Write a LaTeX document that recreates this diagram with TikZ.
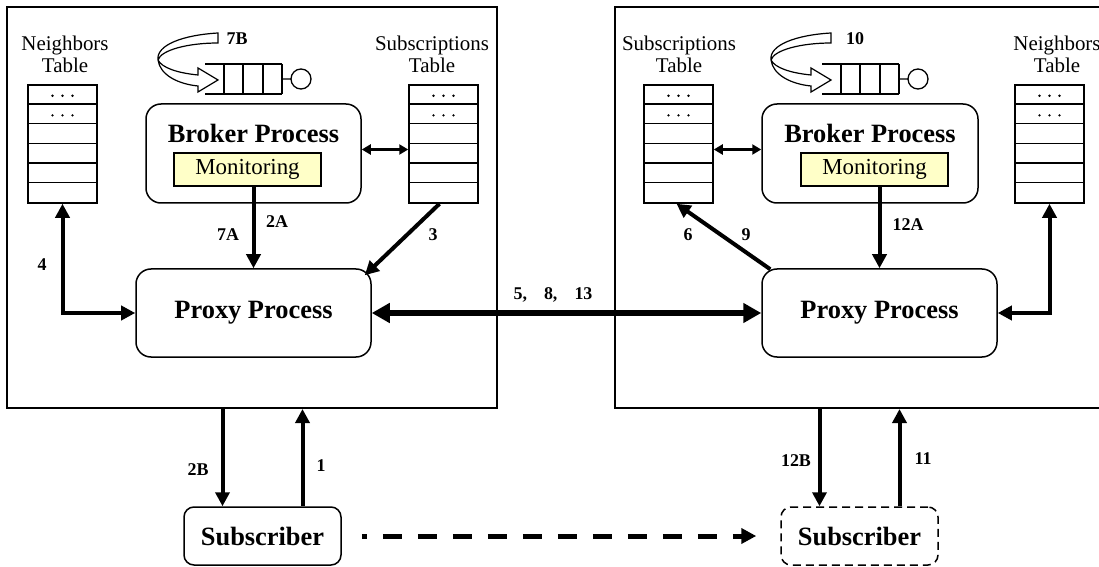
\documentclass[tikz,border=0pt]{standalone}
\usepackage{fontspec}
\setmainfont{Liberation Serif}
\usetikzlibrary{arrows.meta,calc}
\definecolor{monyellow}{RGB}{255,255,200}
\newcommand{\mytable}[2]{%
  \node[tablebox] (#1) at (#2,144) {};
  \foreach \i in {1,...,5}
    \draw[line width=1.4bp] ([yshift=-\i*19.667bp]#1.north west) -- ([yshift=-\i*19.667bp]#1.north east);
  \foreach \r in {0,1}
    \foreach \d in {-10,0,10}
      \fill ([xshift=\d*1bp, yshift={-(\r*19.667+11.5)*1bp}]#1.north) circle[radius=1.3bp];
}
\begin{document}
\begin{tikzpicture}[x=1bp,y=-1bp,
  bigbox/.style={draw, line width=2bp, inner sep=0},
  tablebox/.style={draw, line width=1.5bp, inner sep=0, minimum width=69bp, minimum height=118bp},
  proc/.style={draw, rounded corners=15bp, line width=1.5bp, inner sep=0},
  bold/.style={font=\fontsize{26.5}{30}\selectfont\bfseries, inner sep=0},
  mon/.style={draw, fill=monyellow, line width=1.2bp, inner sep=0, minimum width=147bp, minimum height=33bp, font=\fontsize{23}{26}\selectfont},
  lbl/.style={font=\fontsize{21}{22}\selectfont, align=center, inner sep=0},
  num/.style={font=\fontsize{18}{20}\selectfont\bfseries, inner sep=0},
  arr/.style={line width=4bp, -{Triangle[length=14bp,width=14bp]}},
  darr/.style={line width=4bp, {Triangle[length=14bp,width=14bp]}-{Triangle[length=14bp,width=14bp]}},
  sdarr/.style={line width=3bp, {Triangle[length=9bp,width=10bp]}-{Triangle[length=9bp,width=10bp]}},
  hollow/.pic={\draw[line width=1.2bp, fill=white, line join=miter]
     (0,0) .. controls (-35,2) and (-62,12) .. (-60,27)
     .. controls (-58,42) and (-40,51) .. (-20,53) -- (-20,59) -- (0,47) -- (-20,35) -- (-20,42)
     .. controls (-40,40) and (-56,35) .. (-60,27)
     .. controls (-57,17) and (-30,10) .. (0,10) -- cycle;},
  queue/.pic={\draw[line width=1.3bp] (0,0) -- (77,0) (0,30) -- (77,30);
     \foreach \x in {19,38,58,77} \draw[line width=1.3bp] (\x,0) -- (\x,30);
     \draw[line width=1.3bp] (77,15) -- (86,15) (96,15) circle[radius=10bp];}
]
\useasboundingbox (0,0) rectangle (1099,567);
\clip (0,0) rectangle (1099,567);

% outer boxes
\node[bigbox, minimum width=490bp, minimum height=401bp] (boxL) at (252,207.5) {};
\node[bigbox, minimum width=505bp, minimum height=401bp] (boxR) at (867.5,207.5) {};

% tables
\mytable{ntL}{62.5}
\mytable{stL}{443.5}
\mytable{stR}{678.5}
\mytable{ntR}{1049.5}
\node[lbl] (ntLl) at (65,54) {Neighbors\\Table};
\node[lbl] (stLl) at (432,54) {Subscriptions\\Table};
\node[lbl] (stRl) at (679,54) {Subscriptions\\Table};
\node[lbl] (ntRl) at (1057,54) {Neighbors\\Table};

% broker processes
\node[proc, minimum width=215bp, minimum height=99bp] (brokerL) at (253.5,153.5) {};
\node[bold] (brokerLt) at (253.5,133) {Broker Process};
\node[mon] (monL) at (247.5,169.5) {Monitoring};
\node[proc, minimum width=216bp, minimum height=99bp] (brokerR) at (870,153.5) {};
\node[bold] (brokerRt) at (870,133) {Broker Process};
\node[mon] (monR) at (874.5,169.5) {Monitoring};

% queues and looping arrows
\pic at (205,64) {queue};
\pic at (218,33) {hollow};
\pic at (822,64) {queue};
\pic at (831,33) {hollow};

% proxy processes
\node[proc, bold, minimum width=235bp, minimum height=88bp] (proxyL) at (253.5,313) {Proxy Process};
\node[proc, bold, minimum width=235bp, minimum height=88bp] (proxyR) at (879.5,313) {Proxy Process};

% subscribers
\node[draw, rounded corners=10bp, line width=1.5bp, bold, minimum width=157bp, minimum height=58bp] (subL) at (262.5,536) {Subscriber};
\node[draw, rounded corners=10bp, line width=1.5bp, dash pattern=on 8bp off 5bp, bold, minimum width=157bp, minimum height=58bp] (subR) at (859.5,536) {Subscriber};

% connectors
\draw[arr] (proxyL.north |- monL.south) -- (proxyL.north);
\draw[arr] (proxyR.north |- monR.south) -- (proxyR.north);
\draw[arr] ([xshift=-4bp]stL.south) -- ($(proxyL.north east)+(-7,7)$);
\draw[arr] ($(proxyR.north west)+(9,1)$) -- ([xshift=-2bp]stR.south);
\draw[darr] (ntL.south) |- (proxyL.west);
\draw[darr] (ntR.south) |- (proxyR.east);
\draw[line width=6bp, {Triangle[length=18bp,width=19bp]}-{Triangle[length=18bp,width=19bp]}] (proxyL.east) -- (proxyR.west);
\draw[sdarr] ([yshift=4bp]brokerL.east) -- ([yshift=4bp]brokerL.east -| stL.west);
\draw[sdarr] ([yshift=4bp]stR.east |- brokerR.east) -- ([yshift=4bp]brokerR.west);
\draw[arr] ([xshift=-40bp]subL.north |- boxL.south) -- ([xshift=-40bp]subL.north);
\draw[arr] ([xshift=40bp]subL.north) -- ([xshift=40bp]subL.north |- boxL.south);
\draw[arr] ([xshift=-40bp]subR.north |- boxR.south) -- ([xshift=-40bp]subR.north);
\draw[arr] ([xshift=40bp]subR.north) -- ([xshift=40bp]subR.north |- boxR.south);
\draw[line width=5bp, dash pattern=on 19bp off 16bp, dash phase=14bp, -{Triangle[length=15bp,width=15bp]}, shorten <=20bp, shorten >=24bp] (subL.east) -- (subR.west);

% numbers
\node[num] (n7B) at (237,39) {7B};
\node[num] (n10) at (855,39) {10};
\node[num] (n2A) at (277,222) {2A};
\node[num] (n7A) at (228,235) {7A};
\node[num] (n3) at (433,235) {3};
\node[num] (n4) at (42,265) {4};
\node[num] (n6) at (688,235) {6};
\node[num] (n9) at (746,235) {9};
\node[num] (n12A) at (908,225) {12A};
\node[num] (n5813) at (553,295) {5,\hspace{0.95em}8,\hspace{0.95em}13};
\node[num] (n2B) at (198,470) {2B};
\node[num] (n1) at (321,466) {1};
\node[num] (n12B) at (796,461) {12B};
\node[num] (n11) at (923,459) {11};
\end{tikzpicture}
\end{document}
